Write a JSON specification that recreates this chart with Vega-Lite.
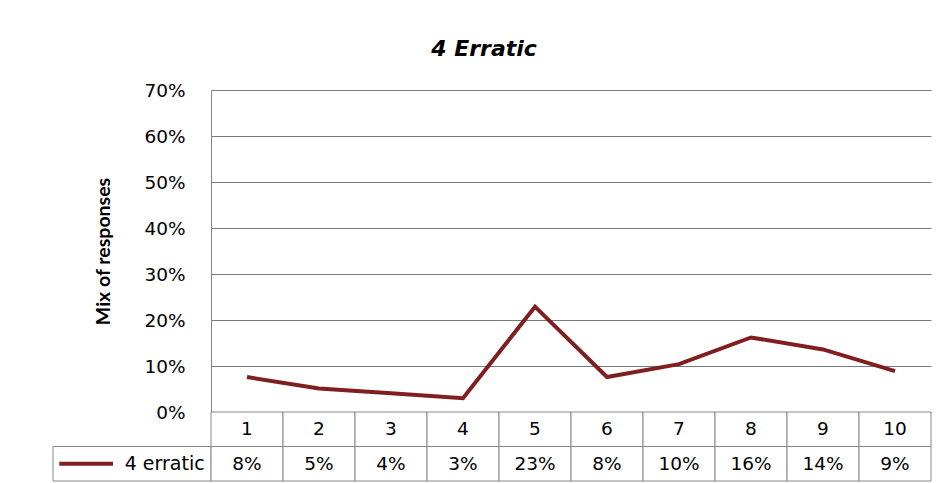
{
  "$schema": "https://vega.github.io/schema/vega-lite/v6.json",
  "background": "white",
  "padding": {"left": 52, "top": 38, "right": 5, "bottom": 2},
  "title": {"text": "4 Erratic", "font": "DejaVu Sans", "fontSize": 22, "fontStyle": "italic", "fontWeight": "bold", "color": "black", "anchor": "middle", "offset": 20, "dx": -8},
  "datasets": {
    "d": [
      {"cat": 1, "share": 0.076},
      {"cat": 2, "share": 0.051},
      {"cat": 3, "share": 0.041},
      {"cat": 4, "share": 0.030},
      {"cat": 5, "share": 0.229},
      {"cat": 6, "share": 0.076},
      {"cat": 7, "share": 0.104},
      {"cat": 8, "share": 0.162},
      {"cat": 9, "share": 0.136},
      {"cat": 10, "share": 0.089}
    ],
    "s": [{"series": "4 erratic"}]
  },
  "columns": 2,
  "spacing": 0,
  "bounds": "flush",
  "concat": [
    {
      "width": 158,
      "height": 322,
      "data": {"name": "s"},
      "mark": {"type": "text"},
      "encoding": {"text": {"value": ""}}
    },
    {
      "width": 720,
      "height": 322,
      "data": {"name": "d"},
      "mark": {"type": "line", "color": "#7F1F1F", "strokeWidth": 4},
      "encoding": {
        "x": {"field": "cat", "type": "ordinal", "scale": {"type": "point", "padding": 0.5}, "axis": null},
        "y": {
          "field": "share", "type": "quantitative",
          "scale": {"domain": [0, 0.7], "nice": false},
          "axis": {
            "format": ".0%", "values": [0, 0.1, 0.2, 0.3, 0.4, 0.5, 0.6, 0.7],
            "title": "Mix of responses", "titleFontSize": 19.5, "titleFontWeight": "bold",
            "titlePadding": 30, "labelFontSize": 18.5, "labelPadding": 26, "ticks": false,
            "grid": true, "gridColor": "#7A7A7A", "gridOpacity": 1, "domainColor": "#868686",
            "labelFont": "DejaVu Sans", "titleFont": "Lato", "labelColor": "black", "titleColor": "black"
          }
        }
      }
    },
    {
      "width": 158,
      "height": 69,
      "data": {"name": "s"},
      "encoding": {
        "y": {"datum": "value", "type": "nominal", "scale": {"type": "band", "domain": ["header", "value"], "paddingInner": 0, "paddingOuter": 0}, "axis": null}
      },
      "layer": [
        {
          "mark": {"type": "rect", "fill": "white", "stroke": "#868686", "strokeWidth": 1},
          "encoding": {
            "x": {"datum": 0, "type": "quantitative", "scale": {"domain": [0, 1], "nice": false, "zero": false}, "axis": null},
            "x2": {"datum": 1}
          }
        },
        {
          "mark": {"type": "rule", "color": "#7F1F1F", "strokeWidth": 4},
          "encoding": {
            "x": {"datum": 0.04, "type": "quantitative"},
            "x2": {"datum": 0.38}
          }
        },
        {
          "mark": {"type": "text", "align": "right", "font": "DejaVu Sans", "fontSize": 19, "color": "black"},
          "encoding": {
            "x": {"datum": 0.96, "type": "quantitative"},
            "text": {"field": "series"}
          }
        }
      ]
    },
    {
      "width": 720,
      "height": 69,
      "data": {"name": "d"},
      "encoding": {
        "x": {"field": "cat", "type": "ordinal", "scale": {"type": "band", "paddingInner": 0, "paddingOuter": 0}, "axis": null}
      },
      "layer": [
        {
          "mark": {"type": "rect", "fill": "white", "stroke": "#868686", "strokeWidth": 1},
          "encoding": {"y": {"datum": "header", "type": "nominal", "scale": {"type": "band", "domain": ["header", "value"], "paddingInner": 0, "paddingOuter": 0}, "axis": null}}
        },
        {
          "mark": {"type": "rect", "fill": "white", "stroke": "#868686", "strokeWidth": 1},
          "encoding": {"y": {"datum": "value", "type": "nominal"}}
        },
        {
          "mark": {"type": "text", "font": "DejaVu Sans", "fontSize": 18.5, "color": "black"},
          "encoding": {"y": {"datum": "header", "type": "nominal"}, "text": {"field": "cat", "type": "nominal"}}
        },
        {
          "mark": {"type": "text", "font": "DejaVu Sans", "fontSize": 18.5, "color": "black"},
          "encoding": {"y": {"datum": "value", "type": "nominal"}, "text": {"field": "share", "type": "quantitative", "format": ".0%"}}
        }
      ]
    }
  ],
  "config": {
    "view": {"stroke": null},
    "font": "DejaVu Sans"
  }
}
